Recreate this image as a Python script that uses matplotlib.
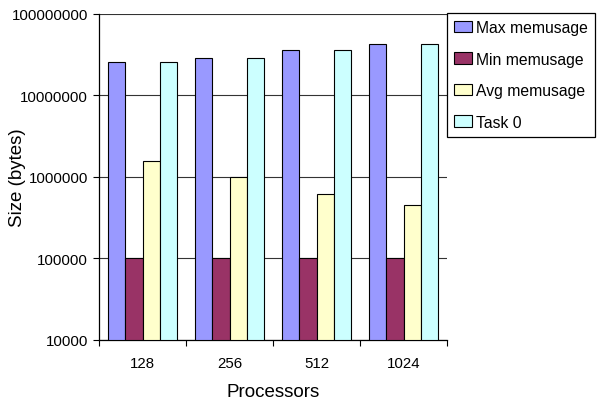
import matplotlib.pyplot as plt
import numpy as np
from matplotlib.ticker import FixedLocator, NullFormatter, FixedFormatter, NullLocator

plt.rcParams['font.family'] = ['Liberation Sans', 'DejaVu Sans']

processors = ["128", "256", "512", "1024"]
max_mem = [2.56e7, 2.9e7, 3.54e7, 4.19e7]
min_mem = [1.0e5, 1.0e5, 1.0e5, 1.0e5]
avg_mem = [1.57e6, 1.0e6, 6.1e5, 4.5e5]
task0 = [2.56e7, 2.9e7, 3.54e7, 4.19e7]

series = [
    ("Max memusage", max_mem, "#9999FF"),
    ("Min memusage", min_mem, "#993366"),
    ("Avg memusage", avg_mem, "#FFFFCC"),
    ("Task 0", task0, "#CCFFFF"),
]

ymin, ymax = 1e4, 1e8

fig = plt.figure(figsize=(5.97, 4.02), dpi=100)
ax = fig.add_axes([99 / 597, 1 - 340.7 / 402, 348 / 597, 326 / 402])

x = np.arange(len(processors))
width = 0.2
for i, (name, vals, color) in enumerate(series):
    heights = np.asarray(vals) - ymin
    ax.bar(x + (i - 1.5) * width, heights, width, bottom=ymin, color=color,
           edgecolor="black", linewidth=0.8, label=name, zorder=3)

ax.set_yscale("log")
ax.set_ylim(ymin, ymax)
ax.set_xlim(-0.5, len(processors) - 0.5)

yt = [1e4, 1e5, 1e6, 1e7, 1e8]
ax.yaxis.set_major_locator(FixedLocator(yt))
ax.yaxis.set_major_formatter(FixedFormatter([str(int(v)) for v in yt]))
ax.yaxis.set_minor_locator(NullLocator())
ax.grid(axis="y", color="#333333", linewidth=0.8, zorder=0)

ax.xaxis.set_major_locator(FixedLocator(np.arange(-0.5, len(processors), 1.0)))
ax.xaxis.set_major_formatter(NullFormatter())
ax.xaxis.set_minor_locator(FixedLocator(x))
ax.xaxis.set_minor_formatter(FixedFormatter(processors))
ax.tick_params(axis="x", which="minor", length=0, pad=12, labelsize=10.8)
ax.tick_params(axis="both", which="major", length=4, width=0.8, direction="out",
               labelsize=10.8, pad=4)

for s in ["top", "right"]:
    ax.spines[s].set_visible(False)
for s in ["left", "bottom"]:
    ax.spines[s].set_linewidth(0.9)

fig.text(18 / 597, 1 - 178 / 402, "Size (bytes)", rotation=90, fontsize=13.5,
         ha="center", va="center")
ax.set_xlabel("Processors", fontsize=13.5, labelpad=9)

leg = fig.legend(loc="upper left", bbox_to_anchor=(447 / 597, 1 - 14 / 402),
                 borderaxespad=0, fontsize=11.3, frameon=True, fancybox=False,
                 edgecolor="black", framealpha=1, handlelength=1.12,
                 handleheight=0.75, handletextpad=0.3, labelspacing=1.05,
                 borderpad=0.45)
leg.get_frame().set_linewidth(0.9)

fig.savefig("out.png", dpi=100)
